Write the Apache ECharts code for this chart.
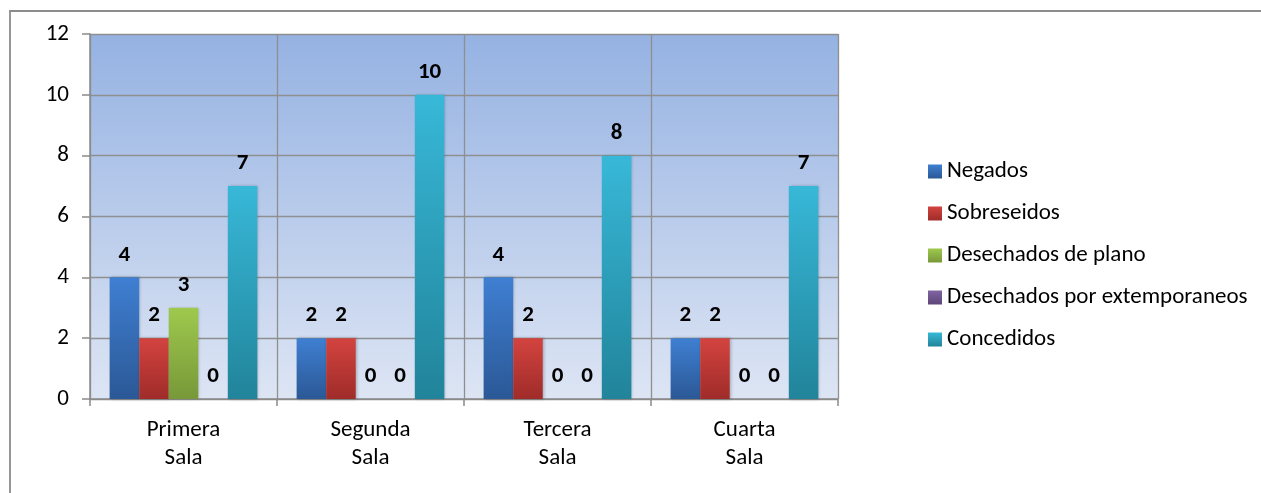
<!DOCTYPE html>
<html>
<head>
<meta charset="utf-8">
<script src="https://cdn.jsdelivr.net/npm/echarts@6/dist/echarts.min.js"></script>
<style>
html,body{margin:0;padding:0;background:#fff;}
#c{width:1261px;height:493px;}
</style>
</head>
<body>
<div id="c"></div>
<script>
var categories = ['Primera\nSala', 'Segunda\nSala', 'Tercera\nSala', 'Cuarta\nSala'];
var negados = [4, 2, 4, 2];
var sobreseidos = [2, 2, 2, 2];
var desechadosPlano = [3, 0, 0, 0];
var desechadosExtemp = [0, 0, 0, 0];
var concedidos = [7, 10, 8, 7];
var seriesNames = ['Negados', 'Sobreseidos', 'Desechados de plano', 'Desechados por extemporaneos', 'Concedidos'];

var FONT = 'Carlito, Calibri, Lato, sans-serif';
function grad(top, bottom) {
  return new echarts.graphic.LinearGradient(0, 0, 0, 1, [
    {offset: 0, color: top}, {offset: 1, color: bottom}
  ]);
}
var colors = [
  grad('#3f7fd2', '#2b5896'),
  grad('#d3433f', '#9f2c29'),
  grad('#9ec94d', '#789839'),
  grad('#8064a2', '#5d4578'),
  grad('#38b8d8', '#21849a')
];
var dataSets = [negados, sobreseidos, desechadosPlano, desechadosExtemp, concedidos];

var chart = echarts.init(document.getElementById('c'));
chart.setOption({
  animation: false,
  textStyle: {fontFamily: FONT},
  graphic: [
    {type: 'rect', shape: {x: 10, y: 11, width: 1400, height: 600},
     style: {fill: 'none', stroke: '#8c8c8c', lineWidth: 1.8}, z: 0, silent: true}
  ],
  grid: {
    left: 90, right: 423, top: 34, bottom: 94,
    show: true,
    backgroundColor: grad('#95b2e2', '#dde5f4'),
    borderWidth: 0
  },
  legend: {
    orient: 'vertical',
    left: 928, top: 160,
    padding: 0,
    itemWidth: 14, itemHeight: 14, itemGap: 19,
    icon: 'rect',
    textStyle: {fontSize: 23, color: '#000', fontFamily: FONT},
    data: seriesNames
  },
  xAxis: {
    type: 'category',
    data: categories,
    axisLine: {show: true, lineStyle: {color: '#8a8a8a', width: 1.5}},
    axisTick: {show: true, length: 7, lineStyle: {color: '#8a8a8a', width: 1.5}},
    splitLine: {show: true, lineStyle: {color: '#8f8f8f', width: 1.3}},
    axisLabel: {fontSize: 23, color: '#000', lineHeight: 28, margin: 17, fontFamily: FONT}
  },
  yAxis: {
    type: 'value',
    min: 0, max: 12, interval: 2,
    axisLine: {show: true, lineStyle: {color: '#8a8a8a', width: 1.5}},
    axisTick: {show: true, length: 8, lineStyle: {color: '#8a8a8a', width: 1.5}},
    splitLine: {show: true, lineStyle: {color: '#8f8f8f', width: 1.3}},
    axisLabel: {fontSize: 23, color: '#000', margin: 21, fontFamily: FONT}
  },
  series: seriesNames.map(function (n, i) {
    return {
      name: n,
      type: 'bar',
      data: dataSets[i],
      barGap: '0%',
      barCategoryGap: '21%',
      itemStyle: {color: colors[i], shadowColor: 'rgba(0,0,0,0.25)', shadowBlur: 3, shadowOffsetX: 1},
      label: {
        show: true, position: 'top', distance: 11,
        fontSize: 23, fontWeight: 'bold', color: '#000', fontFamily: FONT
      }
    };
  })
});
</script>
</body>
</html>
